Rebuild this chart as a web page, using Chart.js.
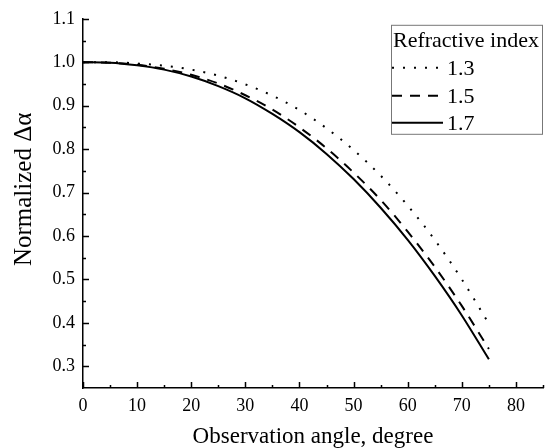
<!DOCTYPE html>
<html><head><meta charset="utf-8">
<script src="https://cdn.jsdelivr.net/npm/chart.js@4/dist/chart.umd.min.js"></script>
<style>html,body{margin:0;padding:0;background:#fff}</style>
</head><body>
<canvas id="c" width="545" height="448"></canvas>
<script>
// ---- data ----
const angles = [0, 5, 10, 15, 20, 25, 30, 35, 40, 45, 50, 55, 60, 65, 70, 75];
const n13 = [1.000, 1.000, 0.997, 0.992, 0.983, 0.969, 0.949, 0.923, 0.890, 0.848, 0.798, 0.739, 0.670, 0.591, 0.500, 0.398];
const n15 = [1.000, 0.999, 0.994, 0.985, 0.971, 0.951, 0.924, 0.891, 0.850, 0.802, 0.746, 0.683, 0.610, 0.529, 0.439, 0.340];
const n17 = [1.000, 0.999, 0.993, 0.983, 0.967, 0.945, 0.917, 0.881, 0.839, 0.789, 0.731, 0.665, 0.591, 0.508, 0.417, 0.316];
const seriesLabels = ['1.3', '1.5', '1.7'];
const xTicks = [0, 10, 20, 30, 40, 50, 60, 70, 80];
const xMinorTicks = [5, 15, 25, 35, 45, 55, 65, 75, 85];
const yTicks = [0.3, 0.4, 0.5, 0.6, 0.7, 0.8, 0.9, 1.0, 1.1];
const yMinorTicks = [0.35, 0.45, 0.55, 0.65, 0.75, 0.85, 0.95, 1.05];
const legendTitle = 'Refractive index';
const xTitle = 'Observation angle, degree';
const yTitle = 'Normalized \u0394\u03b1';

const FONT = "'Liberation Serif', 'Times New Roman', serif";

function pts(arr) { return angles.map((a, i) => ({ x: a, y: arr[i] })); }

const dashes = [[2, 9], [10, 8], []];
const series = [n13, n15, n17];

const tickPlugin = {
  id: 'innerTicks',
  afterDraw(chart) {
    const { ctx, chartArea } = chart;
    const xs = chart.scales.x, ys = chart.scales.y;
    ctx.save();
    ctx.strokeStyle = '#000';
    ctx.lineWidth = 1.5;
    ctx.beginPath();
    const draw = (vals, len) => {
      vals.forEach(v => {
        const px = Math.round(xs.getPixelForValue(v)) + 0.5;
        ctx.moveTo(px, chartArea.bottom);
        ctx.lineTo(px, chartArea.bottom - len);
      });
    };
    draw(xTicks, 6); draw(xMinorTicks, 3);
    const drawY = (vals, len) => {
      vals.forEach(v => {
        const py = Math.round(ys.getPixelForValue(v)) + 0.5;
        ctx.moveTo(chartArea.left, py);
        ctx.lineTo(chartArea.left + len, py);
      });
    };
    drawY(yTicks, 6); drawY(yMinorTicks, 3);
    ctx.stroke();

    // y axis title
    ctx.fillStyle = '#000';
    ctx.font = '25px ' + FONT;
    ctx.textAlign = 'center';
    ctx.textBaseline = 'middle';
    ctx.translate(24, (chartArea.top + chartArea.bottom) / 2 - 14);
    ctx.rotate(-Math.PI / 2);
    ctx.fillText(yTitle, 0, 0);
    ctx.restore();

    // legend
    ctx.save();
    const L = chartArea.right - 152, T = chartArea.top + 6, W = 151, H = 109;
    ctx.strokeStyle = '#777';
    ctx.lineWidth = 1;
    ctx.strokeRect(L + 0.5, T + 0.5, W, H);
    ctx.fillStyle = '#000';
    ctx.font = '22px ' + FONT;
    ctx.textAlign = 'left';
    ctx.textBaseline = 'middle';
    ctx.fillText(legendTitle, L + 2, T + 16);
    const rows = [T + 43, T + 71, T + 98];
    chart.data.datasets.forEach((ds, i) => {
      ctx.save();
      ctx.strokeStyle = '#000';
      ctx.lineWidth = 2;
      ctx.setLineDash(ds.borderDash || []);
      ctx.beginPath();
      ctx.moveTo(L + 1, rows[i]);
      ctx.lineTo(L + 52, rows[i]);
      ctx.stroke();
      ctx.restore();
      ctx.fillText(ds.label, L + 56, rows[i] + 1);
    });
    ctx.restore();
  }
};

new Chart(document.getElementById('c'), {
  type: 'line',
  data: {
    datasets: series.map((s, i) => ({
      label: seriesLabels[i],
      data: pts(s),
      borderColor: '#000',
      borderWidth: 2,
      borderDash: dashes[i],
      pointRadius: 0,
      fill: false,
      cubicInterpolationMode: 'monotone'
    }))
  },
  options: {
    responsive: false,
    animation: false,
    devicePixelRatio: 1,
    layout: { padding: { top: 18, right: 2, left: 0, bottom: 0 } },
    plugins: { legend: { display: false }, tooltip: { enabled: false } },
    scales: {
      x: {
        type: 'linear', min: 0, max: 85,
        afterBuildTicks: s => { s.ticks = xTicks.map(v => ({ value: v })); },
        afterFit: s => { s.height = 60; },
        ticks: { font: { family: FONT, size: 18 }, color: '#000', padding: 7, maxRotation: 0, autoSkip: false },
        grid: { display: false, drawTicks: false },
        border: { display: true, color: '#000', width: 1.5 },
        title: { display: true, text: xTitle, color: '#000', font: { family: FONT, size: 23, lineHeight: 1 }, padding: { top: 0, bottom: 0 } }
      },
      y: {
        type: 'linear', min: 0.25, max: 1.1,
        afterBuildTicks: s => { s.ticks = yTicks.map(v => ({ value: v })); },
        afterFit: s => { s.width = 83; },
        ticks: { font: { family: FONT, size: 18 }, color: '#000', padding: 8, callback: v => Number(v).toFixed(1) },
        grid: { display: false, drawTicks: false },
        border: { display: true, color: '#000', width: 1.5 }
      }
    }
  },
  plugins: [tickPlugin]
});
</script>
</body></html>
